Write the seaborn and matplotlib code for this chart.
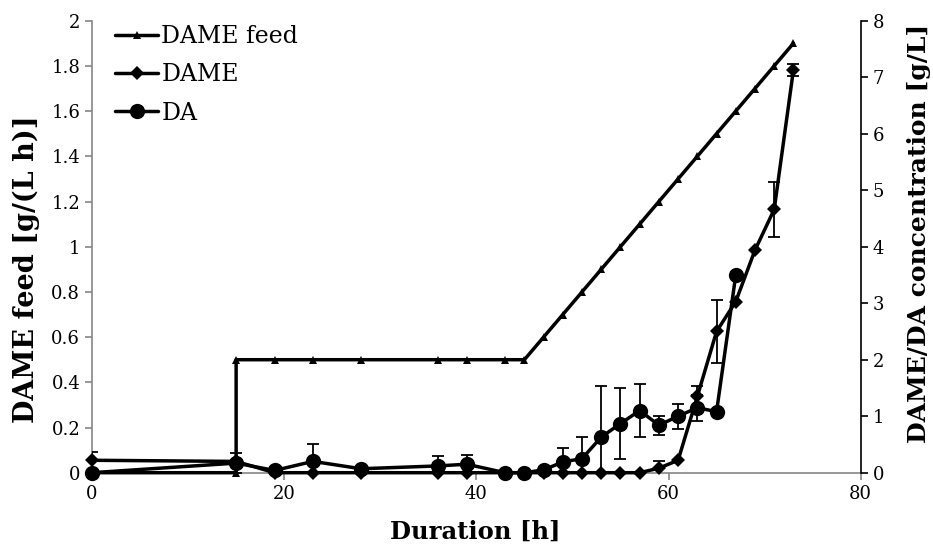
import numpy as np
import seaborn as sns
import matplotlib.pyplot as plt
from matplotlib.lines import Line2D

# DAME feed rate [g/(L h)] (left axis)
feed_time = [0, 15, 15, 19, 23, 28, 36, 39, 43, 45, 47, 49, 51, 53, 55, 57,
             59, 61, 63, 65, 67, 69, 71, 73]
feed_rate = [0, 0, 0.5, 0.5, 0.5, 0.5, 0.5, 0.5, 0.5, 0.5, 0.6, 0.7, 0.8, 0.9,
             1.0, 1.1, 1.2, 1.3, 1.4, 1.5, 1.6, 1.7, 1.8, 1.9]

# DAME concentration [g/L] (right axis)
dame_time = [0, 15, 19, 23, 28, 36, 39, 43, 45, 47, 49, 51, 53, 55, 57, 59,
             61, 63, 65, 67, 69, 71, 73]
dame_conc = [0.22, 0.2, 0, 0, 0, 0, 0, 0, 0, 0, 0, 0, 0, 0, 0, 0.08,
             0.22, 1.35, 2.5, 3.03, 3.94, 4.66, 7.13]
dame_err = [0.15, 0, 0, 0, 0, 0, 0, 0, 0, 0, 0, 0, 0, 0, 0, 0.12,
            0, 0.18, 0.56, 0, 0, 0.49, 0.1]

# DA concentration [g/L] (right axis)
da_time = [0, 15, 19, 23, 28, 36, 39, 43, 45, 47, 49, 51, 53, 55, 57, 59,
           61, 63, 65, 67]
da_conc = [0, 0.17, 0.04, 0.2, 0.07, 0.12, 0.15, 0, 0, 0.05, 0.19, 0.25,
           0.63, 0.87, 1.1, 0.84, 1.0, 1.15, 1.08, 3.5]
da_err = [0, 0.17, 0, 0.31, 0, 0.17, 0.17, 0, 0, 0, 0.25, 0.39,
          0.9, 0.63, 0.47, 0.17, 0.22, 0.23, 0, 0]

sns.set_style('white')
plt.rcParams['font.family'] = ['DejaVu Serif']
plt.rcParams['text.color'] = 'black'
plt.rcParams['axes.labelcolor'] = 'black'
plt.rcParams['xtick.color'] = 'black'
plt.rcParams['ytick.color'] = 'black'

fig = plt.figure(figsize=(9.33, 5.48), dpi=100)
ax = fig.add_axes([0.0986, 0.1374, 0.8239, 0.8248])
ax2 = ax.twinx()

lw = 2.5
sns.lineplot(x=feed_time, y=feed_rate, ax=ax, sort=False, estimator=None,
             color='black', lw=lw, marker='^', markersize=5.5, mew=0,
             legend=False, clip_on=False, zorder=3)

# error bars first, below the lines
def draw_err(t, v, e):
    t = np.array(t); v = np.array(v); e = np.array(e)
    m = e > 0
    ax2.errorbar(t[m], v[m], yerr=e[m], fmt='none', ecolor='black',
                 elinewidth=1.3, capsize=4, capthick=1.3, zorder=2)

draw_err(dame_time, dame_conc, dame_err)
draw_err(da_time, da_conc, da_err)

sns.lineplot(x=dame_time, y=dame_conc, ax=ax2, sort=False, estimator=None,
             color='black', lw=lw, marker='D', markersize=7, mew=0,
             legend=False, clip_on=False, zorder=3)
sns.lineplot(x=da_time, y=da_conc, ax=ax2, sort=False, estimator=None,
             color='black', lw=lw, marker='o', markersize=11, mew=0,
             legend=False, clip_on=False, zorder=3)

ax.set_xlim(0, 80)
ax.set_ylim(0, 2)
ax2.set_ylim(0, 8)
ax.set_xticks([0, 20, 40, 60, 80])
ax.set_yticks(np.arange(0, 2.01, 0.2))
ax.set_yticklabels(['0', '0.2', '0.4', '0.6', '0.8', '1', '1.2', '1.4',
                    '1.6', '1.8', '2'])
ax2.set_yticks(range(0, 9))

gray = '#868686'
for a in (ax, ax2):
    a.spines['top'].set_visible(False)
ax.spines['right'].set_visible(False)
ax.spines['left'].set_color(gray)
ax.spines['bottom'].set_color(gray)
ax2.spines['left'].set_visible(False)
ax2.spines['bottom'].set_visible(False)
ax2.spines['right'].set_color('black')
ax2.spines['right'].set_linewidth(1.2)
for s in ('left', 'bottom'):
    ax.spines[s].set_linewidth(1.2)

ax.tick_params(axis='both', direction='out', length=5, width=1.2,
               color=gray, labelsize=13, labelcolor='black',
               left=True, bottom=True)
ax2.tick_params(axis='y', direction='out', length=5, width=1.2,
                color='black', labelsize=13, labelcolor='black', right=True)

ax.set_xlabel('Duration [h]', fontsize=17.5, fontweight='bold')
ax.xaxis.set_label_coords(0.498, -0.105)
ax.set_ylabel('DAME feed [g/(L h)]', fontsize=19.5, fontweight='bold')
ax.yaxis.set_label_coords(-0.068, 0.45)
ax2.set_ylabel('DAME/DA concentration [g/L]', fontsize=18,
               fontweight='bold')
ax2.yaxis.set_label_coords(1.06, 0.53)

handles = [
    Line2D([], [], color='black', lw=lw, marker='^', markersize=5.5, mew=0),
    Line2D([], [], color='black', lw=lw, marker='D', markersize=7, mew=0),
    Line2D([], [], color='black', lw=lw, marker='o', markersize=11, mew=0),
]
ax2.legend(handles, ['DAME feed', 'DAME', 'DA'], loc='upper left',
           bbox_to_anchor=(0.009, 1.027), frameon=False, fontsize=17,
           handlelength=1.8, handletextpad=0.15, labelspacing=0.65,
           borderaxespad=0.3)

fig.savefig('out.png', dpi=100)
